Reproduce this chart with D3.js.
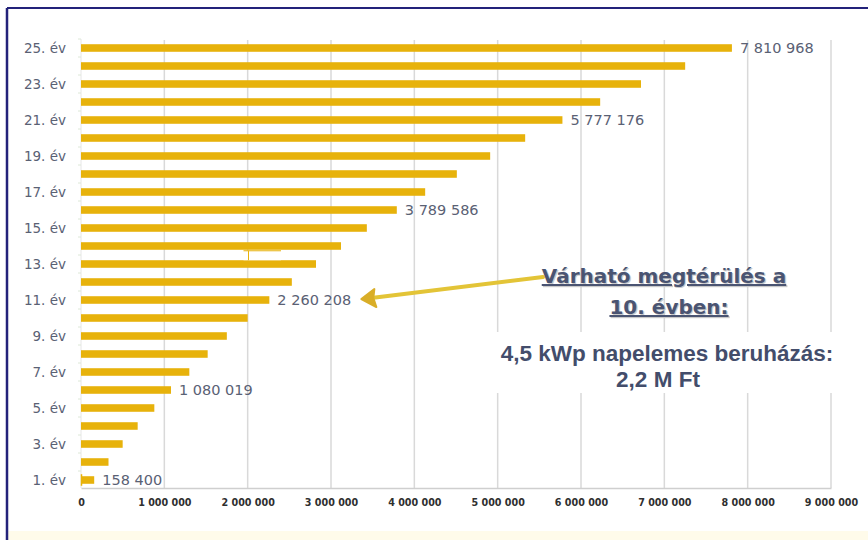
<!DOCTYPE html>
<html>
<head>
<meta charset="utf-8">
<script src="https://cdn.jsdelivr.net/npm/d3@7"></script>
<style>
  body { margin: 0; background: #fff; }
  svg { display: block; }
</style>
</head>
<body>
<svg id="chart"></svg>
<script>
// years 1..25 and cumulative savings (Ft)
const years = d3.range(1, 26);
const savings = [
  158400, 330000, 500000, 680000, 880000,
  1080019, 1300000, 1520000, 1750000, 2000000,
  2260208, 2530000, 2820000, 3120000, 3430000,
  3789586, 4130000, 4510000, 4910000, 5330000,
  5777176, 6230000, 6720000, 7250000, 7810968
];
// years that carry a value label
const labelledYears = [1, 6, 11, 16, 21, 25];
const xTicks = [0, 1000000, 2000000, 3000000, 4000000, 5000000, 6000000, 7000000, 8000000, 9000000];

const width = 868, height = 540;
const margin = { top: 39, right: 37, bottom: 52, left: 81 };

const svg = d3.select("#chart").attr("width", width).attr("height", height);

// frame
svg.append("rect").attr("width", width).attr("height", height).attr("fill", "#ffffff");
svg.append("rect").attr("x", 8).attr("y", 531).attr("width", width - 8).attr("height", 9).attr("fill", "#fffbea");
svg.append("line").attr("x1", 7).attr("x2", width).attr("y1", 8).attr("y2", 8)
  .attr("stroke", "#23227a").attr("stroke-width", 2);
svg.append("line").attr("x1", 7).attr("x2", 7).attr("y1", 8).attr("y2", height)
  .attr("stroke", "#23227a").attr("stroke-width", 2.5);

const x = d3.scaleLinear()
  .domain([0, 9000000])
  .range([margin.left, width - margin.right]);

const y = d3.scaleBand()
  .domain(years.slice().reverse())
  .range([margin.top, height - margin.bottom + 1])
  .paddingInner(0.58)
  .paddingOuter(0.29);

const yMid = d => y(d) + y.bandwidth() / 2;
const axisY = height - margin.bottom + 0;

// vertical gridlines
svg.append("g")
  .selectAll("line")
  .data(xTicks.slice(1))
  .join("line")
  .attr("x1", d => x(d)).attr("x2", d => x(d))
  .attr("y1", margin.top + 1).attr("y2", axisY)
  .attr("stroke", "#d9d9d9")
  .attr("stroke-width", 1.5);

// x axis
const xAxis = svg.append("g")
  .attr("transform", "translate(0," + axisY + ")")
  .call(d3.axisBottom(x)
    .tickValues(xTicks)
    .tickSize(0)
    .tickPadding(11)
    .tickFormat(d => d3.format(",")(d).replace(/,/g, " ")));
xAxis.select(".domain").attr("stroke", "#cfcfcf").attr("stroke-width", 1.5);
xAxis.selectAll("text")
  .attr("font-family", "DejaVu Sans, sans-serif")
  .attr("font-weight", "bold")
  .attr("font-size", "9.6px")
  .attr("fill", "#2f2f2f");

// y axis line with faint ticks
svg.append("line")
  .attr("x1", x(0)).attr("x2", x(0))
  .attr("y1", margin.top).attr("y2", axisY)
  .attr("stroke", "#e6e6e6").attr("stroke-width", 1);
svg.append("g")
  .selectAll("line")
  .data(years)
  .join("line")
  .attr("x1", x(0) - 3).attr("x2", x(0))
  .attr("y1", d => y(d) - (y.step() - y.bandwidth()) / 2)
  .attr("y2", d => y(d) - (y.step() - y.bandwidth()) / 2)
  .attr("stroke", "#dde8d8");

// year labels (odd years only)
svg.append("g")
  .selectAll("text")
  .data(years.filter(d => d % 2 === 1))
  .join("text")
  .attr("x", 66)
  .attr("y", d => yMid(d))
  .attr("dy", "0.36em")
  .attr("text-anchor", "end")
  .attr("font-family", "DejaVu Sans, sans-serif")
  .attr("font-size", "13.5px")
  .attr("fill", "#5a6174")
  .text(d => d + ". év");

// bars
svg.append("g")
  .selectAll("rect")
  .data(years)
  .join("rect")
  .attr("x", x(0))
  .attr("y", d => y(d))
  .attr("width", d => x(savings[d - 1]) - x(0))
  .attr("height", y.bandwidth())
  .attr("fill", "#e7b20b");

// small mark at the start of year 1
svg.append("line")
  .attr("x1", x(0) + 0.5).attr("x2", x(0) + 0.5)
  .attr("y1", y(1) - 2).attr("y2", y(1) + y.bandwidth() + 2)
  .attr("stroke", "#e7b20b").attr("stroke-width", 1.5);

// value labels
svg.append("g")
  .selectAll("text")
  .data(labelledYears)
  .join("text")
  .attr("x", d => x(savings[d - 1]) + 8)
  .attr("y", d => yMid(d))
  .attr("dy", "0.36em")
  .attr("font-family", "DejaVu Sans, sans-serif")
  .attr("font-size", "14.5px")
  .attr("fill", "#5a6174")
  .text(d => d3.format(",")(savings[d - 1]).replace(/,/g, " "));

// pasted patch near year 13
const patchTop = y(14) + y.bandwidth() + 1;
svg.append("rect")
  .attr("x", x(1950000)).attr("y", patchTop)
  .attr("width", x(2400000) - x(1950000)).attr("height", y(13) - patchTop)
  .attr("fill", "#ffffff");
svg.append("line")
  .attr("x1", x(1950000)).attr("x2", x(2400000))
  .attr("y1", patchTop).attr("y2", patchTop)
  .attr("stroke", "#e7b20b").attr("stroke-width", 1);
svg.append("line")
  .attr("x1", x(2010000)).attr("x2", x(2010000))
  .attr("y1", patchTop).attr("y2", y(13))
  .attr("stroke", "#e7b20b").attr("stroke-width", 1);

// white box behind the investment text
svg.append("rect")
  .attr("x", 488).attr("y", 332)
  .attr("width", 355).attr("height", 61)
  .attr("fill", "#ffffff");

// arrow pointing at year 11
const arrowTip = [x(savings[10]) + 92, yMid(11) - 1];
const arrowStart = [543, 277];
svg.append("line")
  .attr("x1", arrowStart[0]).attr("y1", arrowStart[1])
  .attr("x2", arrowTip[0] + 10).attr("y2", arrowTip[1] - 1)
  .attr("stroke", "#e3c437").attr("stroke-width", 4)
  .attr("stroke-linecap", "round");
svg.append("path")
  .attr("d", "M" + arrowTip[0] + "," + arrowTip[1] +
    " L" + (arrowTip[0] + 13) + "," + (arrowTip[1] - 10) +
    " L" + (arrowTip[0] + 12) + "," + (arrowTip[1] - 1) +
    " L" + (arrowTip[0] + 15) + "," + (arrowTip[1] + 8) + " Z")
  .attr("fill", "#d9ae28")
  .attr("stroke", "#d9ae28")
  .attr("stroke-width", 2)
  .attr("stroke-linejoin", "round");

// annotation text
const note = svg.append("g")
  .attr("font-family", "DejaVu Sans, sans-serif")
  .attr("font-weight", "bold")
  .attr("text-anchor", "middle");
[["Várható megtérülés a", 664, 283], ["10. évben:", 669, 314]].forEach(([t, cx, cy]) => {
  note.append("text").attr("x", cx + 1.2).attr("y", cy + 1.2)
    .attr("font-size", "20px").attr("fill", "#c9c9c9")
    .attr("text-decoration", "underline").text(t);
  note.append("text").attr("x", cx).attr("y", cy)
    .attr("font-size", "20px").attr("fill", "#4a5472")
    .attr("text-decoration", "underline").text(t);
});

const info = svg.append("g")
  .attr("font-family", "Liberation Sans, Arial, sans-serif")
  .attr("font-weight", "bold")
  .attr("font-size", "22.5px")
  .attr("fill", "#434d6b")
  .attr("text-anchor", "middle");
info.append("text").attr("x", 667).attr("y", 361).text("4,5 kWp napelemes beruházás:");
info.append("text").attr("x", 658).attr("y", 387).text("2,2 M Ft");
</script>
</body>
</html>
